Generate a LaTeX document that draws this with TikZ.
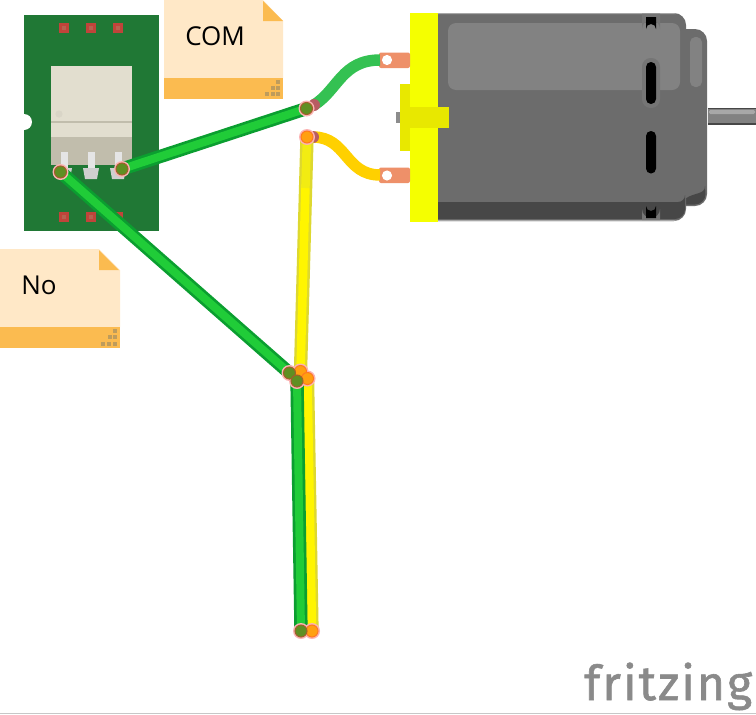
\documentclass[tikz,border=0pt]{standalone}
\usepackage{fontspec}
\setmainfont{Open Sans}
\newfontfamily\logofont[LetterSpace=4.4,FakeBold=1.2]{Fira Sans}
\begin{document}
\begin{tikzpicture}[x=0.75pt,y=-0.75pt,
  notebody/.style={fill=noteface,draw=none},
  noteband/.style={fill=noteedge,draw=none},
  notetext/.style={font=\fontsize{19.5}{24}\selectfont,text=black,inner sep=0pt},
  notedot/.style={fill=notespeck,draw=none},
  pad/.style={fill=padred,draw=none,minimum size=7.6pt,inner sep=0pt},
  padin/.style={fill=padlight,draw=none,minimum size=3.6pt,inner sep=0pt},
  slotrim/.style={fill=rimcol,draw=none},
  slotblack/.style={fill=black,draw=none},
  greenout/.style={draw=wgreenout,line width=10pt},
  greenin/.style={draw=wgreenin,line width=6pt},
  yellowout/.style={draw=wyellowout,line width=10pt},
  yellowin/.style={draw=wyellowin,line width=6.4pt},
  yellowdim/.style={draw=wyellowdim,line width=6.4pt},
  softwire/.style={line width=8.6pt},
  gjoint/.style={circle,fill=jointgreen,draw=jointred,line width=0.8pt,minimum size=9pt,inner sep=0pt},
  yjoint/.style={circle,fill=jointorange,draw=jointorangeb,line width=0.8pt,minimum size=9pt,inner sep=0pt},
  halo/.style={circle,fill=jointhalo,draw=none,minimum size=12pt,inner sep=0pt},
  lead/.style={fill=leadgrey,draw=none},
  terminal/.style={fill=termcol,draw=none,rounded corners=1.5pt},
  hole/.style={circle,fill=white,draw=none,minimum size=7.6pt,inner sep=0pt},
  logoring/.style={circle,fill=white,draw=logogrey,line width=1.5pt,minimum size=5pt,inner sep=0pt}
]
\definecolor{noteface}{HTML}{FFE8C7}
\definecolor{noteedge}{HTML}{FBBB50}
\definecolor{notespeck}{HTML}{BE9C5C}
\definecolor{pcb}{HTML}{207835}
\definecolor{padred}{HTML}{C0443A}
\definecolor{padlight}{HTML}{B8614F}
\definecolor{relaytop}{HTML}{E2DECF}
\definecolor{relaylow}{HTML}{C1BDAC}
\definecolor{leadgrey}{HTML}{CFCFCF}
\definecolor{wgreenout}{HTML}{0B9E30}
\definecolor{wgreenin}{HTML}{20CC38}
\definecolor{wyellowout}{HTML}{DDD830}
\definecolor{wyellowin}{HTML}{FFF500}
\definecolor{wyellowdim}{HTML}{F2EC12}
\definecolor{jointgreen}{HTML}{5F8F22}
\definecolor{jointred}{HTML}{A0602A}
\definecolor{jointorange}{HTML}{FFA010}
\definecolor{jointorangeb}{HTML}{FF7A20}
\definecolor{jointhalo}{HTML}{FBB4B4}
\definecolor{softgreen}{HTML}{34C152}
\definecolor{softyellow}{HTML}{FFD000}
\definecolor{softend}{HTML}{B85C62}
\definecolor{termcol}{HTML}{EE9069}
\definecolor{motorbody}{HTML}{6C6C6C}
\definecolor{motorpanel}{HTML}{828282}
\definecolor{motordark}{HTML}{474747}
\definecolor{rimcol}{HTML}{757575}
\definecolor{motoredge}{HTML}{A8A8A8}
\definecolor{flange}{HTML}{F5FF00}
\definecolor{flangedark}{HTML}{E8E800}
\definecolor{logogrey}{HTML}{8A8A8A}
\useasboundingbox (0,0) rectangle (756,714);
\fill[white] (0,0) rectangle (756,714);

% bottom edge
\fill[black!22] (0,712.5) rectangle (756,714);

% COM note
\fill[notebody] (164,0) -- (263,0) -- (283,21) -- (283,78) -- (164,78) -- cycle;
\fill[noteband] (164,78) rectangle (283,98.5);
\fill[noteband] (263,1) -- (283,21) -- (263,21) -- cycle;
\foreach \p/\q in {278/82,278/88,273/88,278/94,273/94,267/94}
  \fill[notedot] (\p-1.6,\q-1.6) rectangle (\p+1.6,\q+1.6);
\node[notetext,anchor=west] (comlabel) at (185,36) {COM};

% No note
\fill[notebody] (0,249) -- (99,249) -- (120,270) -- (120,327) -- (0,327) -- cycle;
\fill[noteband] (0,327) rectangle (120,348);
\fill[noteband] (99,250) -- (119,270) -- (99,270) -- cycle;
\foreach \p/\q in {115/331,115/337,110/337,115/344,109/344,103/344}
  \fill[notedot] (\p-1.6,\q-1.6) rectangle (\p+1.6,\q+1.6);
\node[notetext,anchor=west] (nolabel) at (21,285) {No};

% PCB
\fill[pcb] (24,15) rectangle (159,230.5);
\fill[white] (24,122) circle (8);
\foreach \n/\x/\y in {a/64/28,b/91/28,c/118/28,d/64/217,e/91/217,f/118/217}{
  \node[pad] (pad\n) at (\x,\y) {};
  \node[padin] (padin\n) at (\x,\y) {};
}
% relay
\fill[relaytop] (51,66) rectangle (132,138);
\fill[relaylow] (51,137) rectangle (132,164.5);
\draw[relaylow,line width=0.8pt] (51,122) -- (132,122);
\fill[relaytop!96!black] (59,114) circle (3.6);
% relay leads
\foreach \x in {64,91,118}{
  \fill[white!90!black] (\x-3.5,152) rectangle (\x+3.5,168);
  \fill[lead] (\x-8,168) -- (\x+8,168) -- (\x+6,179) -- (\x-6,179) -- cycle;
}

% Motor
\fill[motorbody] (684,29) -- (695,29) arc[start angle=-90,end angle=0,radius=12]
  -- (707,194) arc[start angle=0,end angle=90,radius=12] -- (684,206) -- cycle;
\fill[motordark] (685,199) .. controls (694,192) and (705,195) .. (705,186)
  -- (705.5,194) arc[start angle=0,end angle=90,radius=10.5] -- (685,204.5) -- cycle;
\fill[motorbody] (438,13) -- (674,13) arc[start angle=-90,end angle=0,radius=12]
  -- (686,209) arc[start angle=0,end angle=90,radius=12] -- (438,221) -- cycle;
\fill[motoredge] (438,13) -- (674,13) -- (676,14) -- (438,14) -- cycle;
\fill[motoredge] (438,220) -- (676,220) -- (674,221) -- (438,221) -- cycle;
\fill[motordark] (438,202) -- (678,202) arc[start angle=90,end angle=0,radius=7]
  -- (685,209) arc[start angle=0,end angle=90,radius=10] -- (438,219) -- cycle;
\fill[motorpanel,rounded corners=6pt] (448,23) rectangle (680,90);
\fill[motorpanel,rounded corners=4pt] (690,37) rectangle (702,87);
% shaft
\fill[motordark] (708,108) rectangle (756,125);
\fill[motorpanel] (708,109) rectangle (756,123);
\fill[motorpanel!70!white,rounded corners=1pt] (709,110) rectangle (755,114);
% slots
\fill[slotrim] (642,13.5) -- (642,29) arc[start angle=180,end angle=360,radius=9] -- (660,13.5) -- cycle;
\fill[slotblack] (646,17) -- (646,29) arc[start angle=180,end angle=360,radius=5] -- (656,17) -- cycle;
\fill[slotrim,rounded corners=6.5pt] (642,58) rectangle (660,108);
\fill[slotblack,rounded corners=3.7pt] (646,62) rectangle (656,104);
\fill[slotblack,rounded corners=3.7pt] (646,131) rectangle (656,173.5);
\fill[slotrim] (642,220) -- (642,209) arc[start angle=180,end angle=0,radius=9] -- (660,220) -- cycle;
\fill[slotblack] (646,218) -- (646,206) arc[start angle=180,end angle=0,radius=5] -- (656,218) -- cycle;
% flange
\fill[flange] (410,13) rectangle (438,221.5);
\fill[black!45] (396,112) rectangle (400,123);
\fill[flangedark] (400,84) rectangle (410,151);
\fill[flangedark] (410,107) rectangle (449,128);
% terminals
\fill[terminal] (379,52.5) -- (379,68) -- (410,68) -- (410,52.5) -- cycle;
\fill[terminal] (379,167.5) -- (379,183) -- (410,183) -- (410,167.5) -- cycle;
\node[hole] (holetop) at (387,60) {};
\node[hole] (holebot) at (387,175.5) {};

% junction nodes
\coordinate (relayr) at (122,169);
\coordinate (relayl) at (60.5,172);
\coordinate (jcom) at (306.5,108.5);
\coordinate (jy) at (307,137);
\coordinate (ymid) at (305.4,188);
\coordinate (mgn) at (289.5,373);
\coordinate (myn) at (300.5,371.5);
\coordinate (mgd) at (297,381);
\coordinate (myd) at (307.5,378.5);
\coordinate (bg) at (301,631);
\coordinate (by) at (312,631);
\coordinate (softg) at (314,105);
\coordinate (softy) at (313,137);
\coordinate (termg) at (380,60);
\coordinate (termy) at (380,175);

% soft motor leads
\draw[softwire,softgreen] (softg) .. controls (338,90) and (342,60) .. (termg);
\draw[softwire,softyellow] (softy) .. controls (347,137) and (345,175) .. (termy);
\fill[softend] (softg) circle (6);
\fill[softend] (softy) circle (6);

% straight wires
\draw[yellowout] (jy) -- (myn);
\draw[yellowin] (ymid) -- (myn);
\draw[yellowdim] (jy) -- (ymid);
\draw[yellowout] (myd) -- (by);
\draw[yellowin] (myd) -- (by);
\draw[greenout] (relayr) -- (jcom);
\draw[greenin] (relayr) -- (jcom);
\draw[greenout] (relayl) -- (mgn);
\draw[greenin] (relayl) -- (mgn);
\draw[greenout] (mgd) -- (bg);
\draw[greenin] (mgd) -- (bg);

% joints
\foreach \c in {jy,myn,myd,by,relayr,relayl,jcom,mgn,mgd,bg}
  \node[halo] (h\c) at (\c) {};
\foreach \c in {jy,myn,myd,by}
  \node[yjoint] (n\c) at (\c) {};
\foreach \c in {relayr,relayl,jcom,mgn,mgd,bg}
  \node[gjoint] (n\c) at (\c) {};

% logo
\node[anchor=base west,inner sep=0pt,text=logogrey,font=\logofont\fontsize{36}{40}\selectfont] (logo) at (584,700) {fritzing};
\end{tikzpicture}
\end{document}
